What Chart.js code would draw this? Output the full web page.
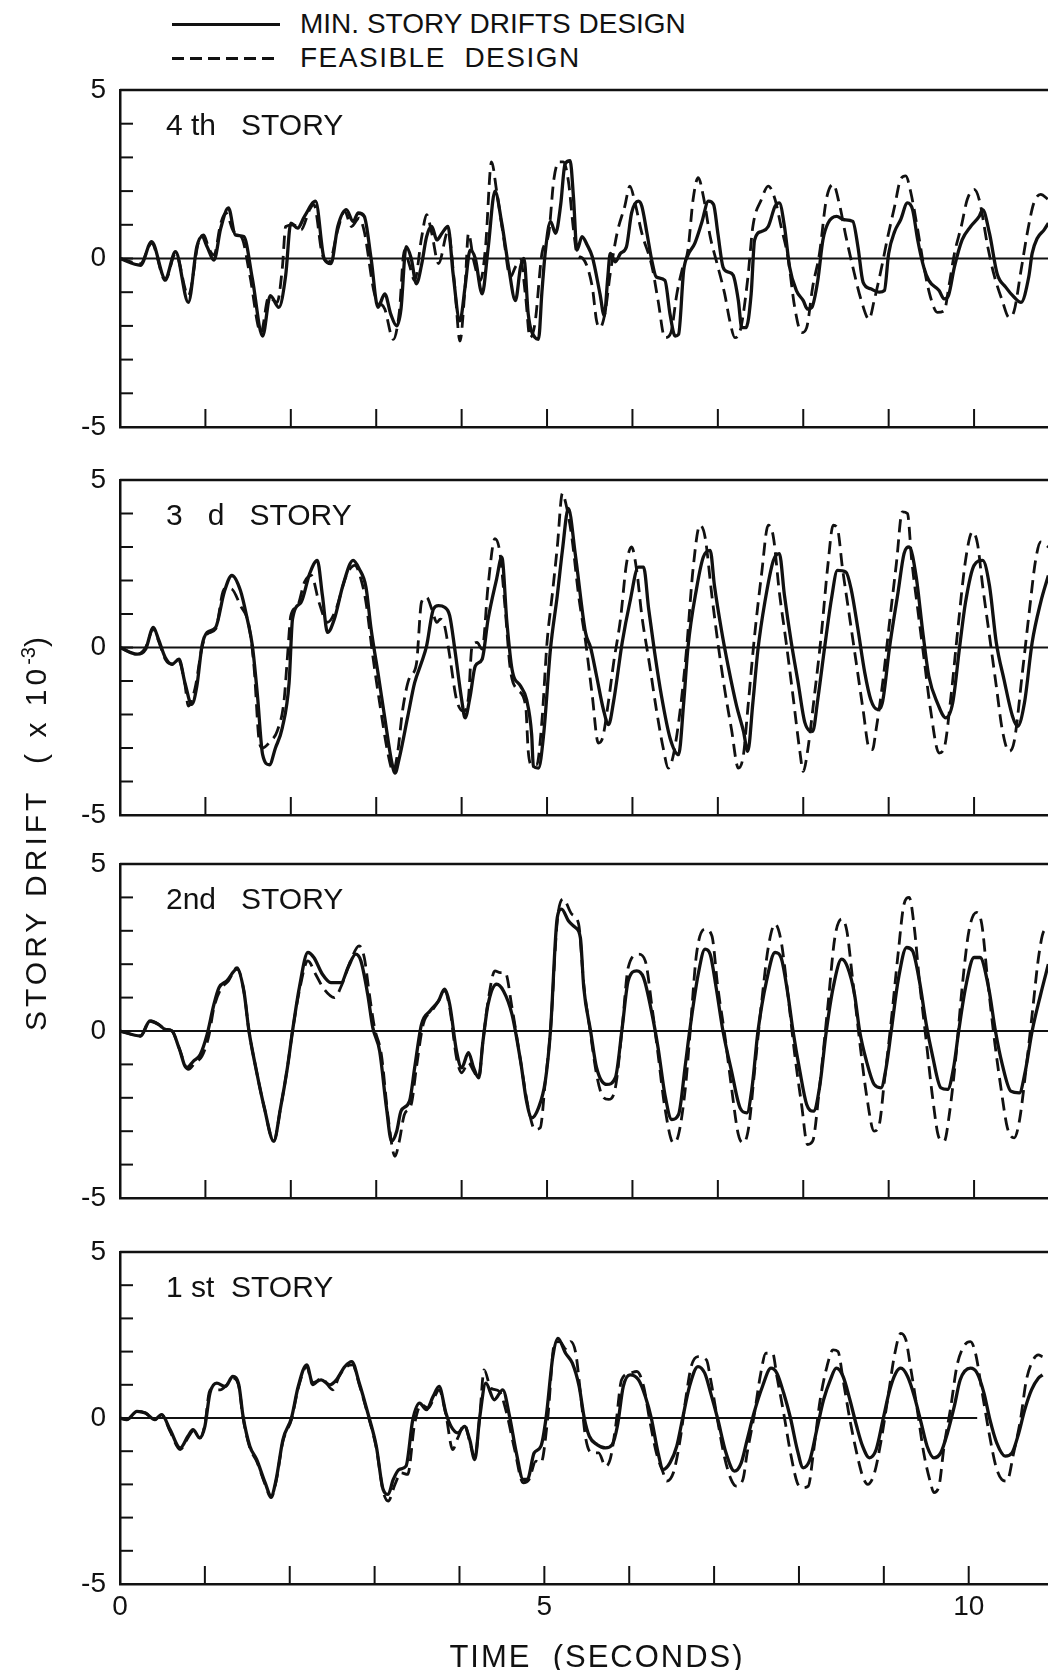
<!DOCTYPE html>
<html>
<head>
<meta charset="utf-8">
<title>Story drift time histories</title>
<script src="https://cdn.jsdelivr.net/npm/chart.js@4.4.1/dist/chart.umd.min.js"></script>
<style>
  html, body { margin: 0; width: 1048px; height: 1670px; overflow: hidden; background: #fff; }
  body { position: relative; font-family: "Liberation Sans", Arial, sans-serif; color: #111; }
  canvas { position: absolute; left: 0; }
  .legend { position: absolute; left: 172px; top: 7px; font-size: 28px; }
  .legend .row { display: flex; align-items: center; height: 34px; }
  .legend .key { width: 108px; height: 3px; margin-right: 20px; background: #111; }
  .legend .key.dashed { background: repeating-linear-gradient(90deg, #111 0 12px, transparent 12px 18px); }
  .legend .row + .row span { letter-spacing: 1.5px; }
  .ytitle { position: absolute; left: -178px; top: 808px; width: 420px; line-height: 40px; text-align: center;
            font-size: 30px; letter-spacing: 4px; transform: rotate(-90deg); white-space: nowrap; }
  .ytitle sup { font-size: 20px; letter-spacing: 0; }
  .xtitle { position: absolute; left: 397px; top: 1637px; width: 400px; line-height: 40px; text-align: center;
            font-size: 31px; letter-spacing: 2px; white-space: nowrap; }
</style>
</head>
<body>

<div class="legend">
  <div class="row"><span class="key"></span><span>MIN. STORY DRIFTS DESIGN</span></div>
  <div class="row"><span class="key dashed"></span><span>FEASIBLE&nbsp; DESIGN</span></div>
</div>

<canvas id="story4" width="1074" height="417" style="top:50px"></canvas>
<canvas id="story3" width="1074" height="415" style="top:440px"></canvas>
<canvas id="story2" width="1074" height="414" style="top:824px"></canvas>
<canvas id="story1" width="1074" height="462" style="top:1212px"></canvas>

<div class="ytitle">STORY DRIFT&nbsp; ( x 10<sup>-3</sup>)</div>
<div class="xtitle">TIME&nbsp; (SECONDS)</div>

<script>
// time axis reaches a bit past the right edge of the page, like the cropped original
const timeMax = 11.17;
const yTickLabels = [5, 0, -5];
const xTickLabels = [0, 5, 10];
const storyLabels = ['4 th   STORY', '3   d   STORY', '2nd   STORY', '1 st  STORY'];

// [time (s), drift (x10^-3)]
const story4Min = [[0,0],[0.24,-0.2],[0.37,0.5],[0.53,-0.6],[0.65,0.2],[0.8,-1.3],[0.9,0.35],[0.96,0.65],[1.02,0.35],[1.1,-0.05],[1.18,0.9],[1.27,1.5],[1.35,0.7],[1.45,0.65],[1.55,-0.6],[1.67,-2.3],[1.76,-1.1],[1.86,-1.45],[1.94,-0.5],[2.0,1.05],[2.08,0.9],[2.16,1.25],[2.29,1.7],[2.39,0],[2.47,-0.15],[2.55,0.95],[2.65,1.45],[2.73,1.1],[2.79,1.35],[2.86,1.25],[2.94,0],[3.02,-1.45],[3.1,-1.05],[3.17,-1.65],[3.24,-2.0],[3.29,-1.5],[3.35,0.35],[3.41,0],[3.47,-0.75],[3.53,-0.2],[3.59,0.65],[3.65,0.95],[3.71,0.55],[3.77,0.75],[3.84,0.95],[3.9,-0.45],[3.98,-1.85],[4.04,-0.85],[4.1,0.25],[4.16,0],[4.24,-1.05],[4.31,0.3],[4.39,2.0],[4.47,1.05],[4.55,-0.25],[4.63,-1.25],[4.69,-0.25],[4.73,0],[4.78,-1.65],[4.86,-2.35],[4.9,-2.4],[4.94,-1.0],[4.98,0.2],[5.04,1.1],[5.1,0.75],[5.16,1.6],[5.21,2.8],[5.27,2.9],[5.31,1.8],[5.35,0.25],[5.41,0.65],[5.47,0.4],[5.53,0.05],[5.62,-1.05],[5.67,-1.7],[5.71,-0.6],[5.74,0.15],[5.8,-0.1],[5.86,0.15],[5.93,0.35],[5.99,1.35],[6.07,1.7],[6.11,1.55],[6.17,0.75],[6.23,-0.1],[6.28,-0.55],[6.38,-0.65],[6.44,-1.65],[6.5,-2.3],[6.54,-2.25],[6.6,-0.35],[6.65,0.1],[6.73,0.45],[6.81,1.05],[6.89,1.7],[6.95,1.6],[7.0,0.75],[7.06,-0.25],[7.12,-0.4],[7.18,-0.5],[7.24,-1.25],[7.28,-2.05],[7.33,-2.05],[7.39,-1.05],[7.43,0.55],[7.51,0.8],[7.59,0.95],[7.67,1.55],[7.72,1.65],[7.78,0.95],[7.84,-0.25],[7.92,-0.95],[8.0,-1.25],[8.05,-1.5],[8.1,-1.45],[8.17,-0.65],[8.23,0.55],[8.29,1.05],[8.39,1.25],[8.48,1.15],[8.58,1.1],[8.64,0.35],[8.7,-0.7],[8.79,-0.9],[8.89,-1.0],[8.95,-0.95],[9.0,0.15],[9.07,0.8],[9.14,1.15],[9.22,1.65],[9.28,1.45],[9.34,0.55],[9.41,-0.25],[9.47,-0.65],[9.59,-0.95],[9.65,-1.2],[9.7,-1.1],[9.77,-0.25],[9.86,0.55],[9.96,0.95],[10.06,1.25],[10.1,1.45],[10.18,0.75],[10.27,-0.45],[10.37,-0.85],[10.47,-1.15],[10.55,-1.3],[10.64,-0.55],[10.68,0.15],[10.74,0.6],[10.82,0.85],[10.87,1.05]];
const story4Feas = [[0,0],[0.24,-0.15],[0.37,0.45],[0.53,-0.65],[0.65,0.15],[0.8,-1.1],[0.92,0.5],[0.98,0.7],[1.04,0.3],[1.1,0.1],[1.18,1.05],[1.24,1.35],[1.33,0.8],[1.43,0.6],[1.52,-0.5],[1.65,-2.2],[1.74,-1.15],[1.84,-1.3],[1.9,-0.3],[1.94,0.95],[2.03,1.0],[2.12,0.85],[2.22,1.45],[2.27,1.6],[2.37,0.1],[2.45,-0.1],[2.55,0.85],[2.63,1.4],[2.71,0.95],[2.8,1.2],[2.86,0.8],[2.98,-1.05],[3.1,-1.5],[3.2,-2.4],[3.27,-1.6],[3.33,0.25],[3.39,-0.2],[3.45,-0.65],[3.53,0.6],[3.59,1.3],[3.65,0.75],[3.73,-0.15],[3.84,0.8],[3.92,-0.85],[3.98,-2.45],[4.04,-0.85],[4.08,0.75],[4.14,-0.05],[4.22,-0.65],[4.28,0.35],[4.35,2.87],[4.41,2.0],[4.49,0.65],[4.57,-0.55],[4.63,-0.25],[4.69,-0.05],[4.75,-1.15],[4.8,-2.35],[4.86,-1.9],[4.94,0.15],[5.02,0.75],[5.08,2.35],[5.14,2.87],[5.19,2.87],[5.25,2.3],[5.31,0.85],[5.35,0.15],[5.42,0.0],[5.53,-0.85],[5.58,-1.85],[5.62,-2.05],[5.68,-1.6],[5.74,-0.45],[5.82,0.75],[5.91,1.55],[5.97,2.15],[6.03,1.65],[6.11,0.75],[6.23,-0.25],[6.3,-1.25],[6.38,-2.35],[6.45,-2.2],[6.52,-1.05],[6.58,-0.35],[6.65,0.25],[6.71,1.75],[6.77,2.4],[6.83,1.85],[6.91,0.65],[6.98,-0.05],[7.08,-1.05],[7.14,-1.85],[7.2,-2.35],[7.27,-2.05],[7.35,-0.6],[7.41,0.95],[7.51,1.75],[7.59,2.15],[7.67,1.75],[7.74,0.95],[7.82,0.05],[7.9,-1.45],[7.98,-2.2],[8.04,-2.05],[8.11,-0.85],[8.19,0.15],[8.27,1.75],[8.35,2.2],[8.42,1.65],[8.5,0.65],[8.58,-0.25],[8.68,-1.25],[8.77,-1.8],[8.83,-1.25],[8.91,-0.35],[8.99,0.65],[9.07,1.55],[9.14,2.35],[9.2,2.45],[9.26,1.95],[9.34,0.85],[9.42,-0.35],[9.49,-1.15],[9.57,-1.6],[9.65,-1.55],[9.71,-0.75],[9.77,0.15],[9.85,0.95],[9.92,1.75],[10.0,2.05],[10.06,1.75],[10.16,0.35],[10.23,-0.45],[10.33,-1.25],[10.41,-1.75],[10.47,-1.55],[10.55,-0.35],[10.63,0.85],[10.7,1.65],[10.78,1.9],[10.87,1.75]];

const story3Min = [[0,0],[0.2,-0.2],[0.3,-0.05],[0.39,0.6],[0.45,0.25],[0.53,-0.3],[0.61,-0.5],[0.69,-0.35],[0.76,-1.05],[0.84,-1.7],[0.9,-1.15],[0.96,0.05],[1.02,0.45],[1.12,0.6],[1.22,1.65],[1.31,2.15],[1.41,1.7],[1.49,0.85],[1.55,0.05],[1.61,-1.45],[1.67,-3.2],[1.75,-3.5],[1.82,-3.0],[1.9,-2.4],[1.98,-1.05],[2.02,0.85],[2.12,1.35],[2.22,2.2],[2.31,2.6],[2.37,1.55],[2.43,0.45],[2.51,0.85],[2.61,1.85],[2.73,2.6],[2.8,2.35],[2.88,1.8],[2.94,0.55],[3.02,-0.75],[3.1,-2.1],[3.18,-3.4],[3.22,-3.75],[3.27,-3.3],[3.37,-2.05],[3.45,-1.05],[3.53,-0.45],[3.59,0.05],[3.67,1.15],[3.73,1.25],[3.8,1.2],[3.86,0.95],[3.92,-0.05],[4.0,-1.55],[4.04,-2.1],[4.1,-1.45],[4.16,-0.55],[4.24,-0.35],[4.31,0.85],[4.41,2.05],[4.47,2.7],[4.53,0.75],[4.59,-0.65],[4.69,-1.15],[4.76,-1.55],[4.82,-2.6],[4.84,-3.55],[4.9,-3.6],[4.96,-2.6],[5.04,-0.05],[5.12,1.55],[5.18,2.9],[5.25,4.15],[5.33,2.8],[5.45,0.45],[5.51,0.0],[5.58,-0.85],[5.66,-1.85],[5.72,-2.3],[5.78,-1.6],[5.88,0.15],[5.97,1.35],[6.07,2.4],[6.13,2.4],[6.19,1.15],[6.26,-0.15],[6.34,-1.45],[6.44,-2.7],[6.54,-3.2],[6.6,-1.65],[6.65,0.0],[6.75,1.75],[6.83,2.7],[6.91,2.9],[6.96,1.85],[7.04,0.55],[7.12,-0.55],[7.22,-1.75],[7.3,-2.5],[7.35,-3.1],[7.41,-1.65],[7.47,-0.05],[7.55,1.35],[7.65,2.6],[7.72,2.8],[7.78,1.55],[7.86,0.15],[7.94,-1.05],[8.02,-2.25],[8.11,-2.5],[8.17,-1.55],[8.25,0.0],[8.33,1.45],[8.4,2.3],[8.5,2.25],[8.56,1.75],[8.64,0.55],[8.72,-0.75],[8.79,-1.55],[8.87,-1.85],[8.93,-1.6],[9.01,0.0],[9.11,1.65],[9.18,2.8],[9.24,3.0],[9.32,2.15],[9.4,0.45],[9.47,-0.85],[9.57,-1.65],[9.67,-2.1],[9.75,-1.65],[9.83,0.0],[9.9,1.35],[10.0,2.45],[10.1,2.6],[10.18,1.85],[10.26,0.15],[10.35,-0.95],[10.45,-2.05],[10.51,-2.35],[10.59,-1.65],[10.68,0.15],[10.78,1.35],[10.87,2.15]];
const story3Feas = [[0,0],[0.2,-0.2],[0.3,0.0],[0.39,0.55],[0.45,0.2],[0.53,-0.35],[0.61,-0.5],[0.69,-0.4],[0.76,-1.1],[0.8,-1.75],[0.88,-1.2],[0.96,0.0],[1.02,0.4],[1.12,0.55],[1.22,1.75],[1.3,1.75],[1.41,1.25],[1.51,0.65],[1.57,-0.6],[1.63,-2.8],[1.67,-3.0],[1.76,-2.8],[1.84,-2.5],[1.92,-1.6],[1.96,-0.3],[2.0,0.95],[2.08,1.25],[2.16,1.95],[2.24,2.15],[2.33,1.35],[2.43,0.75],[2.53,1.15],[2.65,2.15],[2.75,2.45],[2.82,2.05],[2.88,1.35],[2.96,-0.25],[3.04,-1.65],[3.14,-3.2],[3.2,-3.7],[3.25,-3.15],[3.31,-1.85],[3.39,-0.9],[3.47,-0.5],[3.53,1.35],[3.59,1.5],[3.65,1.15],[3.71,0.75],[3.75,0.85],[3.8,0.65],[3.86,-0.25],[3.94,-1.55],[4.02,-1.9],[4.08,-1.5],[4.12,0.0],[4.18,0.15],[4.24,-0.05],[4.31,1.85],[4.39,3.25],[4.45,2.8],[4.51,1.15],[4.57,-0.65],[4.65,-1.25],[4.75,-1.75],[4.78,-3.1],[4.82,-3.5],[4.88,-3.5],[4.94,-2.2],[5.0,0.15],[5.06,1.55],[5.12,3.0],[5.18,4.6],[5.22,4.3],[5.29,3.3],[5.37,1.55],[5.45,0.2],[5.53,-1.45],[5.6,-2.85],[5.65,-2.7],[5.72,-1.6],[5.78,-0.45],[5.86,0.85],[5.93,2.5],[5.99,3.0],[6.05,2.3],[6.11,0.95],[6.2,-0.5],[6.28,-1.85],[6.36,-3.0],[6.42,-3.6],[6.48,-3.2],[6.56,-1.85],[6.63,-0.15],[6.71,2.35],[6.79,3.65],[6.85,3.3],[6.93,1.55],[7.0,0.15],[7.08,-1.25],[7.16,-2.45],[7.24,-3.6],[7.3,-3.2],[7.35,-1.85],[7.43,0.35],[7.51,2.15],[7.59,3.65],[7.65,3.3],[7.72,1.65],[7.8,0.15],[7.88,-1.45],[7.96,-3.1],[8.0,-3.7],[8.05,-3.1],[8.13,-1.45],[8.21,0.35],[8.29,2.5],[8.35,3.65],[8.4,3.55],[8.46,2.35],[8.54,0.95],[8.62,-0.45],[8.7,-1.85],[8.77,-3.0],[8.81,-3.05],[8.85,-2.5],[8.93,-1.05],[9.01,0.75],[9.09,2.5],[9.16,4.05],[9.22,4.0],[9.27,2.6],[9.34,1.15],[9.42,-0.45],[9.49,-1.85],[9.59,-3.15],[9.65,-3.0],[9.73,-1.45],[9.81,0.55],[9.9,2.6],[9.98,3.45],[10.04,3.1],[10.1,1.85],[10.18,0.35],[10.26,-1.15],[10.33,-2.45],[10.41,-3.1],[10.47,-2.8],[10.57,-0.65],[10.65,1.15],[10.72,2.6],[10.78,3.15],[10.87,3.0]];

const story2Min = [[0,0],[0.24,-0.15],[0.35,0.3],[0.45,0.2],[0.53,0.05],[0.61,0.0],[0.69,-0.5],[0.78,-1.1],[0.86,-0.9],[0.94,-0.7],[1.02,-0.1],[1.1,0.8],[1.16,1.3],[1.25,1.5],[1.37,1.85],[1.45,1.2],[1.51,0.0],[1.59,-1.1],[1.69,-2.3],[1.8,-3.3],[1.88,-2.3],[1.96,-1.1],[2.02,0.0],[2.1,1.3],[2.2,2.35],[2.27,2.2],[2.37,1.7],[2.47,1.45],[2.59,1.45],[2.67,1.9],[2.76,2.3],[2.82,2.1],[2.9,1.1],[2.96,0.1],[3.04,-0.6],[3.12,-2.3],[3.18,-3.3],[3.24,-3.0],[3.29,-2.4],[3.39,-2.1],[3.45,-1.1],[3.53,0.2],[3.63,0.6],[3.73,0.9],[3.8,1.25],[3.86,0.8],[3.94,-0.6],[4.0,-1.1],[4.08,-0.65],[4.14,-1.1],[4.2,-1.4],[4.25,-0.3],[4.31,0.8],[4.41,1.4],[4.49,1.2],[4.59,0.5],[4.69,-0.9],[4.76,-2.1],[4.82,-2.6],[4.9,-2.3],[4.98,-1.5],[5.04,0.0],[5.12,3.4],[5.17,3.65],[5.25,3.3],[5.33,3.1],[5.39,2.8],[5.43,1.3],[5.51,0.0],[5.58,-1.1],[5.7,-1.6],[5.8,-1.4],[5.88,0.1],[5.95,1.5],[6.05,1.8],[6.13,1.6],[6.23,0.5],[6.3,-0.5],[6.38,-1.9],[6.46,-2.65],[6.54,-2.5],[6.62,-1.0],[6.67,0.0],[6.77,1.7],[6.85,2.45],[6.91,2.3],[6.98,1.3],[7.06,0.0],[7.16,-1.2],[7.26,-2.3],[7.34,-2.45],[7.4,-1.7],[7.47,0.0],[7.57,1.5],[7.67,2.35],[7.74,2.2],[7.82,1.1],[7.88,0.0],[7.96,-1.2],[8.04,-2.2],[8.12,-2.4],[8.19,-1.7],[8.27,0.0],[8.35,1.3],[8.45,2.15],[8.52,1.9],[8.6,1.1],[8.66,0.0],[8.74,-0.9],[8.83,-1.6],[8.91,-1.7],[8.97,-1.1],[9.03,0.0],[9.11,1.5],[9.21,2.5],[9.28,2.4],[9.36,1.5],[9.44,0.2],[9.51,-0.7],[9.61,-1.7],[9.69,-1.75],[9.76,-1.1],[9.82,0.0],[9.9,1.3],[10.0,2.2],[10.07,2.2],[10.17,1.3],[10.25,0.0],[10.33,-1.0],[10.43,-1.8],[10.53,-1.85],[10.6,-1.2],[10.68,0.0],[10.78,1.1],[10.87,2.0]];
const story2Feas = [[0,0],[0.24,-0.15],[0.35,0.3],[0.45,0.2],[0.53,0.05],[0.61,0.0],[0.69,-0.5],[0.8,-1.15],[0.88,-0.95],[0.96,-0.75],[1.04,-0.15],[1.1,0.7],[1.18,1.25],[1.27,1.5],[1.37,1.9],[1.45,1.2],[1.51,0.0],[1.59,-1.1],[1.69,-2.3],[1.8,-3.3],[1.88,-2.3],[1.96,-1.1],[2.02,0.0],[2.1,1.2],[2.2,2.1],[2.29,1.7],[2.39,1.25],[2.51,1.0],[2.6,1.4],[2.7,2.1],[2.8,2.55],[2.86,2.2],[2.92,1.1],[2.98,0.1],[3.06,-0.7],[3.14,-2.6],[3.22,-3.75],[3.27,-3.3],[3.33,-2.5],[3.41,-2.2],[3.47,-1.1],[3.55,0.2],[3.65,0.6],[3.73,0.9],[3.8,1.2],[3.86,0.7],[3.94,-0.8],[4.0,-1.25],[4.08,-0.95],[4.14,-1.2],[4.2,-1.4],[4.25,-0.3],[4.31,0.9],[4.39,1.8],[4.45,1.75],[4.51,1.75],[4.59,0.7],[4.69,-0.9],[4.78,-2.3],[4.86,-2.95],[4.92,-2.9],[4.98,-1.5],[5.04,0.0],[5.12,3.3],[5.19,3.95],[5.29,3.5],[5.37,3.2],[5.43,1.4],[5.51,-0.1],[5.58,-1.3],[5.64,-1.9],[5.72,-2.05],[5.8,-1.7],[5.88,0.1],[5.95,1.9],[6.07,2.3],[6.15,2.1],[6.23,0.7],[6.3,-0.7],[6.38,-2.3],[6.48,-3.35],[6.54,-3.1],[6.62,-1.7],[6.67,-0.2],[6.75,2.3],[6.85,3.05],[6.93,2.85],[7.0,1.3],[7.08,-0.1],[7.16,-1.7],[7.24,-3.1],[7.3,-3.35],[7.36,-2.9],[7.43,-1.2],[7.51,0.8],[7.59,2.5],[7.67,3.2],[7.74,2.7],[7.82,1.1],[7.9,-0.7],[7.98,-2.2],[8.05,-3.4],[8.11,-3.3],[8.19,-1.7],[8.29,0.8],[8.37,2.8],[8.45,3.35],[8.51,3.0],[8.58,1.5],[8.66,-0.3],[8.74,-1.9],[8.83,-3.0],[8.89,-2.8],[8.95,-1.5],[9.03,0.3],[9.11,2.3],[9.18,3.8],[9.24,4.0],[9.3,3.1],[9.36,1.5],[9.44,-0.3],[9.51,-1.9],[9.59,-3.2],[9.65,-3.3],[9.71,-2.5],[9.79,-0.7],[9.86,1.3],[9.94,3.0],[10.03,3.55],[10.09,3.2],[10.16,1.5],[10.24,-0.3],[10.32,-1.8],[10.39,-2.9],[10.47,-3.2],[10.53,-2.7],[10.61,-1.1],[10.68,0.5],[10.76,2.3],[10.82,3.0],[10.87,3.05]];

const story1Min = [[0,0],[0.08,-0.05],[0.2,0.2],[0.3,0.15],[0.41,-0.05],[0.49,0.1],[0.59,-0.35],[0.71,-0.9],[0.8,-0.55],[0.86,-0.35],[0.94,-0.6],[1.0,-0.25],[1.06,0.75],[1.14,1.05],[1.24,0.95],[1.33,1.25],[1.4,1.0],[1.45,0.05],[1.53,-0.85],[1.61,-1.25],[1.71,-1.95],[1.78,-2.35],[1.84,-1.85],[1.92,-0.65],[2.02,0.0],[2.1,0.95],[2.2,1.6],[2.27,1.05],[2.37,1.15],[2.47,1.0],[2.55,1.15],[2.65,1.55],[2.73,1.7],[2.82,1.05],[2.92,0.15],[3.02,-0.85],[3.1,-2.15],[3.16,-2.3],[3.22,-1.85],[3.29,-1.55],[3.37,-1.45],[3.45,-0.05],[3.53,0.45],[3.61,0.25],[3.69,0.65],[3.76,0.95],[3.84,0.15],[3.9,-0.25],[3.98,-0.45],[4.06,-0.25],[4.12,-0.65],[4.18,-1.25],[4.24,0.05],[4.31,1.05],[4.41,0.55],[4.51,0.85],[4.59,0.05],[4.67,-1.05],[4.75,-1.85],[4.8,-1.85],[4.88,-1.05],[4.96,-0.85],[5.02,0.0],[5.1,1.85],[5.16,2.4],[5.25,1.95],[5.33,1.65],[5.41,0.95],[5.47,0.0],[5.53,-0.55],[5.62,-0.8],[5.72,-0.9],[5.8,-0.8],[5.86,-0.25],[5.93,0.95],[6.01,1.3],[6.11,1.15],[6.19,0.65],[6.26,0.0],[6.34,-1.05],[6.4,-1.55],[6.48,-1.35],[6.56,-0.85],[6.63,0.0],[6.71,0.95],[6.81,1.55],[6.89,1.35],[6.96,0.75],[7.04,0.0],[7.14,-1.05],[7.24,-1.6],[7.32,-1.35],[7.39,-0.65],[7.47,0.15],[7.57,0.95],[7.67,1.5],[7.74,1.35],[7.82,0.75],[7.9,0.0],[7.98,-0.95],[8.05,-1.5],[8.13,-1.25],[8.21,-0.35],[8.29,0.55],[8.37,1.15],[8.44,1.5],[8.52,1.25],[8.6,0.55],[8.68,-0.25],[8.75,-0.85],[8.83,-1.2],[8.91,-0.95],[8.99,-0.05],[9.07,0.85],[9.14,1.35],[9.2,1.5],[9.28,1.25],[9.36,0.65],[9.44,-0.15],[9.51,-0.85],[9.59,-1.2],[9.67,-1.05],[9.75,-0.45],[9.83,0.35],[9.9,1.15],[10.02,1.5],[10.1,1.35],[10.18,0.75],[10.25,-0.05],[10.33,-0.75],[10.43,-1.15],[10.51,-1.05],[10.59,-0.45],[10.66,0.25],[10.74,0.85],[10.82,1.2],[10.87,1.3]];
const story1Feas = [[0,0],[0.08,-0.05],[0.2,0.2],[0.3,0.15],[0.41,-0.05],[0.49,0.1],[0.59,-0.4],[0.71,-0.95],[0.8,-0.6],[0.86,-0.4],[0.94,-0.6],[1.0,-0.2],[1.06,0.85],[1.18,0.85],[1.26,1.0],[1.33,1.2],[1.4,0.95],[1.45,0.0],[1.53,-0.9],[1.61,-1.3],[1.71,-2.0],[1.78,-2.4],[1.84,-1.9],[1.92,-0.7],[2.02,-0.05],[2.1,0.9],[2.2,1.55],[2.27,1.0],[2.37,1.2],[2.51,0.85],[2.58,1.25],[2.67,1.55],[2.74,1.6],[2.82,1.0],[2.92,0.1],[3.02,-0.9],[3.1,-2.2],[3.16,-2.5],[3.24,-2.0],[3.31,-1.65],[3.39,-1.7],[3.47,-0.2],[3.55,0.4],[3.63,0.3],[3.7,0.6],[3.76,0.85],[3.84,0.1],[3.92,-0.95],[3.98,-0.6],[4.06,-0.2],[4.12,-0.7],[4.18,-1.2],[4.24,0.1],[4.29,1.45],[4.37,0.9],[4.47,0.8],[4.55,0.2],[4.65,-0.95],[4.75,-1.95],[4.82,-1.85],[4.9,-1.3],[4.96,-1.35],[5.04,0.0],[5.12,2.25],[5.18,2.3],[5.25,2.1],[5.31,2.3],[5.37,1.95],[5.43,0.65],[5.49,-0.65],[5.56,-1.05],[5.64,-1.05],[5.72,-1.45],[5.78,-1.2],[5.84,-0.25],[5.91,1.15],[6.01,1.35],[6.09,1.4],[6.17,0.95],[6.24,-0.05],[6.32,-1.05],[6.4,-1.65],[6.44,-1.9],[6.52,-1.65],[6.6,-0.65],[6.67,0.65],[6.73,1.55],[6.81,1.85],[6.91,1.75],[6.96,1.15],[7.04,-0.05],[7.12,-1.15],[7.2,-1.85],[7.26,-2.05],[7.34,-1.85],[7.39,-1.05],[7.47,0.05],[7.55,1.35],[7.61,1.95],[7.69,1.95],[7.74,1.25],[7.82,0.15],[7.9,-1.05],[7.98,-1.95],[8.04,-2.1],[8.11,-2.05],[8.17,-1.05],[8.25,0.55],[8.33,1.55],[8.4,2.05],[8.46,2.0],[8.52,1.15],[8.6,-0.05],[8.68,-1.05],[8.75,-1.75],[8.81,-2.0],[8.89,-1.65],[8.97,-0.65],[9.05,0.65],[9.13,1.95],[9.2,2.55],[9.26,2.35],[9.32,1.45],[9.4,0.15],[9.47,-1.05],[9.55,-1.95],[9.59,-2.25],[9.65,-2.05],[9.71,-0.85],[9.79,0.35],[9.86,1.55],[9.94,2.15],[10.02,2.3],[10.08,1.95],[10.16,0.75],[10.24,-0.45],[10.32,-1.45],[10.39,-1.85],[10.45,-1.9],[10.53,-1.05],[10.61,-0.05],[10.68,1.15],[10.76,1.75],[10.82,1.9],[10.87,1.85]];

const INK = '#111';
const FONT = '"Liberation Sans", Arial, sans-serif';

function toPoints(pairs) {
  return pairs.map(([x, y]) => ({ x, y }));
}

// frame top edge, zero line, inward tick marks and the story caption
const panelDecor = {
  id: 'panelDecor',
  beforeDatasetsDraw(chart, args, opts) {
    const { ctx, chartArea: a, scales: { x, y } } = chart;
    const seg = (x1, y1, x2, y2) => { ctx.beginPath(); ctx.moveTo(x1, y1); ctx.lineTo(x2, y2); ctx.stroke(); };
    ctx.save();
    ctx.strokeStyle = INK;
    ctx.lineWidth = 2.5;
    seg(a.left, a.top, a.right, a.top);

    ctx.lineWidth = 1.8;
    const y0 = y.getPixelForValue(0);
    seg(a.left, y0, x.getPixelForValue(opts.zeroEnd || timeMax), y0);

    ctx.lineWidth = 2;
    for (let v = -4; v <= 4; v++) {
      const py = y.getPixelForValue(v);
      seg(a.left, py, a.left + 13, py);
    }
    for (let t = 1; t <= Math.floor(timeMax); t++) {
      const px = x.getPixelForValue(t);
      seg(px, a.bottom, px, a.bottom - 18);
    }

    ctx.fillStyle = INK;
    ctx.font = '30px ' + FONT;
    ctx.textBaseline = 'alphabetic';
    ctx.fillText(opts.label, a.left + 46, a.top + 45);
    ctx.restore();
  }
};

function makePanel(id, label, minSeries, feasSeries, extra) {
  const bottom = !!extra.bottom;
  new Chart(document.getElementById(id), {
    type: 'line',
    data: {
      datasets: [
        { label: 'MIN. STORY DRIFTS DESIGN', data: toPoints(minSeries), borderColor: INK, borderWidth: 3.3,
          pointRadius: 0, cubicInterpolationMode: 'monotone', fill: false },
        { label: 'FEASIBLE DESIGN', data: toPoints(feasSeries), borderColor: INK, borderWidth: 2.8,
          borderDash: [13, 7], pointRadius: 0, cubicInterpolationMode: 'monotone', fill: false }
      ]
    },
    options: {
      responsive: false,
      animation: false,
      events: [],
      layout: { padding: { top: 40, bottom: bottom ? 0 : 40, left: 0, right: 0 } },
      plugins: {
        legend: { display: false },
        tooltip: { enabled: false },
        panelDecor: { label, zeroEnd: extra.zeroEnd }
      },
      scales: {
        x: {
          type: 'linear', min: 0, max: timeMax,
          grid: { display: false, drawTicks: false },
          border: { display: true, color: INK, width: 2.5 },
          ticks: {
            display: bottom, stepSize: 1, autoSkip: false, maxRotation: 0, padding: 6,
            color: INK, font: { family: FONT, size: 28 },
            callback: v => xTickLabels.includes(v) ? String(v) : ''
          },
          afterFit: s => { s.height = bottom ? 90 : 0; }
        },
        y: {
          min: -5, max: 5,
          grid: { display: false, drawTicks: false },
          border: { display: true, color: INK, width: 2.5 },
          ticks: {
            stepSize: 1, autoSkip: false, padding: 14,
            color: INK, font: { family: FONT, size: 28 },
            callback: v => yTickLabels.includes(v) ? String(v) : ''
          },
          afterFit: s => { s.width = 120; }
        }
      }
    },
    plugins: [panelDecor]
  });
}

makePanel('story4', storyLabels[0], story4Min, story4Feas, {});
makePanel('story3', storyLabels[1], story3Min, story3Feas, {});
makePanel('story2', storyLabels[2], story2Min, story2Feas, {});
makePanel('story1', storyLabels[3], story1Min, story1Feas, { bottom: true, zeroEnd: 10.1 });
</script>
</body>
</html>
